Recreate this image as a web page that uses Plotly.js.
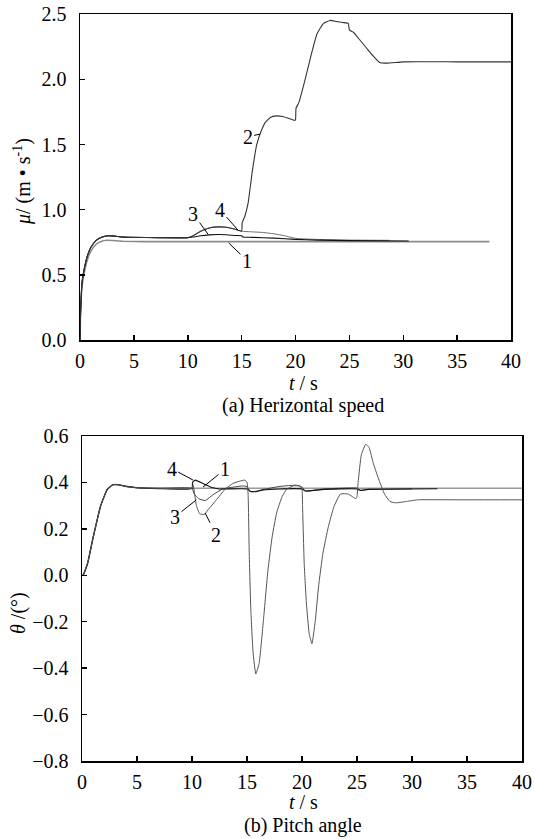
<!DOCTYPE html>
<html>
<head>
<meta charset="utf-8">
<script src="https://cdn.plot.ly/plotly-3.0.1.min.js"></script>
<style>html,body{margin:0;padding:0;background:#fff;}#chart{width:534px;height:839px;}</style>
</head>
<body>
<div id="chart"></div>
<script>
// ---- (a) Horizontal speed, curves 1-4 ----
const speedT1 = [0,0.05,0.2,0.4,0.7,1,1.5,2,2.5,3,4,6,10,15,20,25,30,38];
const speedV1 = [0,0.2,0.42,0.52,0.62,0.68,0.735,0.758,0.766,0.764,0.758,0.755,0.755,0.755,0.755,0.755,0.755,0.755];

const speedT2 = [0,0.05,0.2,0.4,0.7,1,1.5,2,2.6,3.2,4,6,10,10.5,11.2,12,12.8,13.6,14.4,15,15.05,15.3,15.6,16,16.4,16.8,17.2,17.7,18.2,18.8,19.4,19.9,20,20.05,20.3,20.8,21.4,22,22.6,23.2,23.8,24.4,24.9,25,25.4,25.8,26.3,26.8,27.2,27.8,28.5,30,35,40];
const speedV2 = [0,0.2,0.45,0.55,0.65,0.71,0.765,0.788,0.8,0.797,0.79,0.787,0.785,0.8,0.835,0.86,0.868,0.865,0.85,0.835,0.9,0.95,1.05,1.3,1.5,1.6,1.67,1.71,1.72,1.715,1.7,1.685,1.69,1.78,1.82,1.97,2.17,2.35,2.43,2.453,2.445,2.437,2.43,2.38,2.36,2.32,2.27,2.22,2.18,2.13,2.125,2.135,2.135,2.135];

const speedT3 = [0,0.05,0.2,0.4,0.7,1,1.5,2,2.6,3.2,4,6,10,10.5,11.2,12,12.8,13.6,14.5,15,15.1,16,18,20,22,25,30.5];
const speedV3 = [0,0.2,0.45,0.55,0.65,0.71,0.765,0.788,0.8,0.797,0.79,0.787,0.785,0.79,0.8,0.807,0.81,0.808,0.802,0.8,0.79,0.788,0.782,0.772,0.767,0.763,0.76];

const speedT4 = [0,0.05,0.2,0.4,0.7,1,1.5,2,2.6,3.2,4,6,10,10.5,11.2,12,12.8,13.6,14.4,15,16,17,18,19,20,22,25,28.7];
const speedV4 = [0,0.2,0.45,0.55,0.65,0.71,0.765,0.788,0.8,0.797,0.79,0.787,0.785,0.8,0.835,0.86,0.868,0.865,0.85,0.835,0.83,0.825,0.815,0.8,0.78,0.772,0.767,0.765];

// ---- (b) Pitch angle, curves 1-4 ----
const pitchT1 = [0,0.1,0.5,1,1.7,2.3,2.8,3.3,4,5,7,10,15,20,25,30,35,40];
const pitchV1 = [0,0,0.05,0.16,0.3,0.37,0.39,0.39,0.383,0.377,0.375,0.375,0.375,0.375,0.375,0.375,0.375,0.375];

const pitchT2 = [0,0.1,0.5,1,1.7,2.3,2.8,3.3,4,5,7,10,10.1,10.4,10.7,11.1,11.6,12.2,13,13.7,14.3,14.8,15,15.1,15.2,15.35,15.55,15.8,16.1,16.5,16.9,17.3,17.7,18.2,18.6,19.2,19.8,20,20.05,20.2,20.4,20.65,20.9,21.2,21.5,21.9,22.4,22.9,23.5,24.2,24.9,25,25.1,25.4,25.8,26.1,26.5,27,27.5,28,28.5,29.5,30.5,35,40];
const pitchV2 = [0,0,0.05,0.16,0.3,0.37,0.39,0.39,0.383,0.377,0.375,0.375,0.39,0.3,0.265,0.262,0.29,0.324,0.37,0.395,0.405,0.41,0.4,0.35,0.1,-0.15,-0.33,-0.425,-0.38,-0.19,0.02,0.17,0.27,0.34,0.37,0.385,0.385,0.37,0.3,0.05,-0.12,-0.25,-0.295,-0.2,-0.05,0.095,0.21,0.295,0.35,0.35,0.33,0.34,0.4,0.52,0.565,0.55,0.48,0.41,0.35,0.318,0.312,0.318,0.325,0.325,0.325];

const pitchT3 = [0,0.1,0.5,1,1.7,2.3,2.8,3.3,4,5,7,10,10.2,10.6,11.2,12,12.8,13.8,14.6,15,15.3,15.8,16.5,18,19.5,20,20.3,21,22,24,25,25.3,26,30];
const pitchV3 = [0,0,0.05,0.16,0.3,0.37,0.39,0.39,0.383,0.377,0.375,0.375,0.35,0.33,0.322,0.35,0.372,0.38,0.385,0.382,0.36,0.362,0.37,0.383,0.388,0.38,0.362,0.366,0.372,0.376,0.376,0.367,0.37,0.372];

const pitchT4 = [0,0.1,0.5,1,1.7,2.3,2.8,3.3,4,5,7,10,10.05,10.3,11,11.8,12.5,15,15.3,15.8,16.5,18,20,20.3,21,22,25,25.3,26,32.3];
const pitchV4 = [0,0,0.05,0.16,0.3,0.37,0.39,0.39,0.383,0.377,0.373,0.373,0.4,0.41,0.395,0.378,0.372,0.372,0.362,0.36,0.368,0.372,0.372,0.363,0.365,0.37,0.372,0.365,0.37,0.373];

const xTicks = [0,5,10,15,20,25,30,35,40];

const FONT = 'Liberation Serif';
function tr(x, y, xa, ya, color, w) {
  return {x: x, y: y, xaxis: xa, yaxis: ya, mode: 'lines', type: 'scatter',
          line: {color: color, width: w, shape: 'spline', smoothing: 0.4}, hoverinfo: 'skip', showlegend: false};
}
const data = [
  tr(speedT1, speedV1, 'x', 'y', '#8a8a8a', 1.6),
  tr(speedT4, speedV4, 'x', 'y', '#6a6a6a', 1),
  tr(speedT3, speedV3, 'x', 'y', '#111', 1.1),
  tr(speedT2, speedV2, 'x', 'y', '#333', 1.1),
  tr(pitchT1, pitchV1, 'x2', 'y2', '#9a9a9a', 1.6),
  tr(pitchT3, pitchV3, 'x2', 'y2', '#444', 1),
  tr(pitchT4, pitchV4, 'x2', 'y2', '#111', 1.1),
  tr(pitchT2, pitchV2, 'x2', 'y2', '#555', 1)
];

function axis(extra) {
  return Object.assign({
    showline: true, linecolor: '#000', linewidth: 1.5, mirror: true,
    ticks: 'inside', ticklen: 5, tickwidth: 1.5, tickcolor: '#000',
    showgrid: false, zeroline: false,
    tickfont: {family: FONT, size: 20, color: '#000'}
  }, extra);
}

function lab(text, x, y, ax, ay, xr, yr) {
  return {text: text, x: x, y: y, ax: ax, ay: ay, xref: xr, yref: yr, axref: xr, ayref: yr,
          showarrow: true, arrowhead: 0, arrowwidth: 1, arrowcolor: '#000', standoff: 0,
          font: {family: FONT, size: 20, color: '#000'}};
}
function txt(text, x, y, rot) {
  return {text: text, x: x, y: y, xref: 'paper', yref: 'paper', showarrow: false,
          xanchor: 'center', yanchor: 'middle', textangle: rot || 0,
          font: {family: FONT, size: 20, color: '#000'}};
}

const layout = {
  width: 534, height: 839,
  margin: {l: 0, r: 0, t: 0, b: 0},
  paper_bgcolor: '#fff', plot_bgcolor: '#fff',
  font: {family: FONT, size: 20, color: '#000'},
  xaxis: axis({domain: [80/534, 511/534], anchor: 'y', range: [0, 40], tickvals: xTicks, ticklabelstandoff: 2}),
  yaxis: axis({domain: [(839-340)/839, (839-14.3)/839], anchor: 'x', range: [0, 2.5], dtick: 0.5, tick0: 0, tickformat: '.1f', ticklabelstandoff: 8}),
  xaxis2: axis({domain: [82/534, 522/534], anchor: 'y2', range: [0, 40], tickvals: xTicks, ticklabelstandoff: 2}),
  yaxis2: axis({domain: [(839-761)/839, (839-436)/839], anchor: 'x2', range: [-0.8, 0.6], dtick: 0.2, tick0: 0, tickformat: '.1f', ticklabelstandoff: 8}),
  annotations: [
    lab('2', 16.7, 1.58, 15.55, 1.56, 'x', 'y'),
    lab('3', 11.9, 0.81, 10.5, 0.97, 'x', 'y'),
    lab('4', 14.7, 0.84, 13.0, 1.0, 'x', 'y'),
    lab('1', 13.8, 0.745, 15.5, 0.61, 'x', 'y'),
    lab('4', 10.1, 0.41, 8.15, 0.46, 'x2', 'y2'),
    lab('1', 11.0, 0.38, 13.0, 0.457, 'x2', 'y2'),
    lab('3', 10.4, 0.325, 8.45, 0.252, 'x2', 'y2'),
    lab('2', 11.2, 0.268, 12.2, 0.173, 'x2', 'y2'),
    txt('<i>μ</i>/ (m • s<sup>-1</sup>)', 22/534, (839-181)/839, -90),
    txt('<i>t</i> / s', 303/534, (839-383)/839),
    txt('(a) Herizontal speed', 303/534, (839-406)/839),
    txt('<i>θ</i> /(°)', 18/534, (839-613)/839, -90),
    txt('<i>t</i> / s', 303/534, (839-802)/839),
    txt('(b) Pitch angle', 303/534, (839-825)/839)
  ]
};

Plotly.newPlot('chart', data, layout, {staticPlot: true, displayModeBar: false});
</script>
</body>
</html>
